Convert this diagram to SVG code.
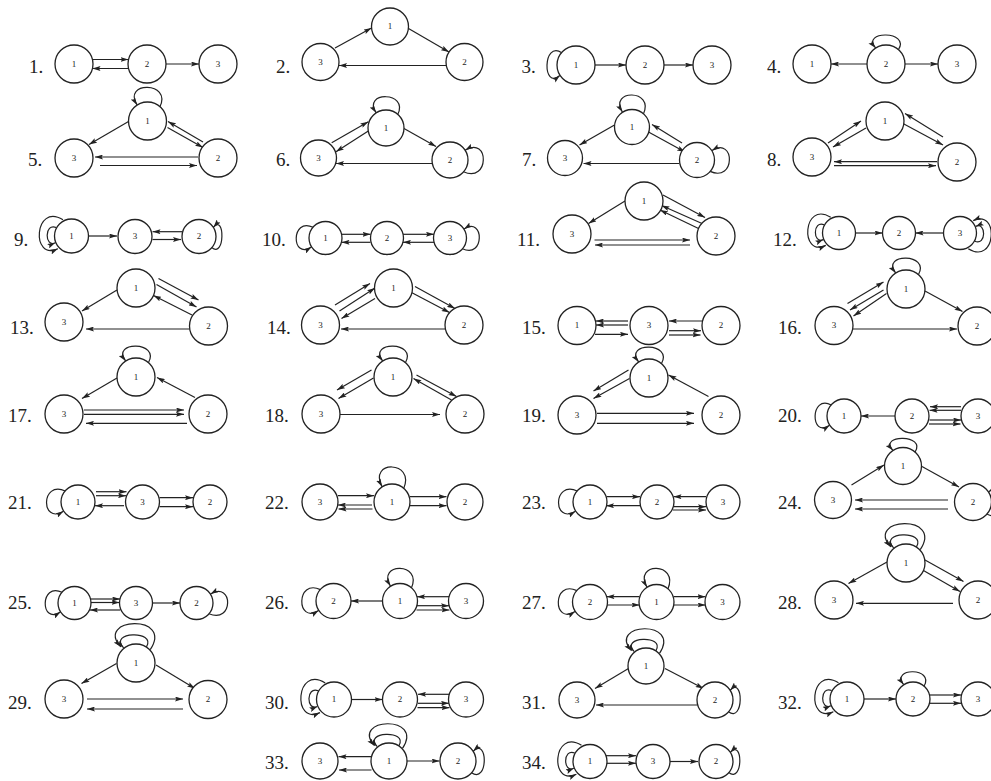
<svg xmlns="http://www.w3.org/2000/svg" width="991" height="781" viewBox="0 0 991 781">
<style>
.e{fill:none;stroke:#222;stroke-width:1.2;marker-end:url(#a)}
.n circle{fill:#fff;stroke:#222;stroke-width:1.3}
.n text{font-family:"Liberation Serif",serif;font-size:9px;text-anchor:middle;fill:#222}
.l{font-family:"Liberation Serif",serif;font-size:19px;fill:#222}
</style>
<defs>
<marker id="a" markerWidth="8" markerHeight="5" refX="8" refY="2.5" orient="auto" markerUnits="userSpaceOnUse"><path d="M0,0 L8,2.5 L0,5 L1.5,2.5 z" fill="#222"/></marker>
</defs>
<rect width="991" height="781" fill="#fff"/>
<g id="labels">
<text class="l" x="29" y="72.5">1.</text><text class="l" x="276" y="72.5">2.</text><text class="l" x="521.5" y="72.5">3.</text><text class="l" x="767" y="72.5">4.</text>
<text class="l" x="28" y="166">5.</text><text class="l" x="276" y="166">6.</text><text class="l" x="522" y="166">7.</text><text class="l" x="767" y="166">8.</text>
<text class="l" x="14" y="245.5">9.</text><text class="l" x="262" y="245.5">10.</text><text class="l" x="517" y="245.5">11.</text><text class="l" x="773" y="245.5">12.</text>
<text class="l" x="10" y="334">13.</text><text class="l" x="267" y="334">14.</text><text class="l" x="522" y="334">15.</text><text class="l" x="778" y="334">16.</text>
<text class="l" x="8" y="422">17.</text><text class="l" x="265" y="422">18.</text><text class="l" x="522" y="422">19.</text><text class="l" x="778" y="422">20.</text>
<text class="l" x="8" y="508.5">21.</text><text class="l" x="265" y="508.5">22.</text><text class="l" x="522" y="508.5">23.</text><text class="l" x="778" y="508.5">24.</text>
<text class="l" x="8" y="609">25.</text><text class="l" x="265" y="609">26.</text><text class="l" x="522" y="609">27.</text><text class="l" x="778" y="609">28.</text>
<text class="l" x="8" y="708.5">29.</text><text class="l" x="265" y="708.5">30.</text><text class="l" x="522" y="708.5">31.</text><text class="l" x="778" y="708.5">32.</text>
<text class="l" x="265" y="768.5">33.</text><text class="l" x="522" y="768.5">34.</text>
</g>
<g id="connectors">
<!-- 1 -->
<path class="e" d="M92.5,59.5 H128.5"/><path class="e" d="M128.5,68.5 H92.5"/><path class="e" d="M166,64 H199"/>
<!-- 2 -->
<path class="e" d="M335,48 L371.5,28"/><path class="e" d="M408.5,28.5 L449,52"/><path class="e" d="M446.5,65.5 H339"/>
<!-- 3 -->
<path class="e" d="M561.75,52.65 C542.4,40.3 542.4,90.65 559.85,75.45"/><path class="e" d="M595,65 H626"/><path class="e" d="M664,65 H693"/>
<!-- 4 -->
<path class="e" d="M898.4,49.8 C910.7,30.4 860.4,30.4 875.6,47.9"/><path class="e" d="M867,64 H831"/><path class="e" d="M905,64 H938"/>
<!-- 5 -->
<path class="e" d="M159.9,106.8 C172.2,81.1 121.9,81.1 137.1,104.9"/>
<path class="e" d="M128.5,121.5 L89,144.5"/><path class="e" d="M203,142 L168,121.5"/><path class="e" d="M167.5,127.5 L203,147.5"/>
<path class="e" d="M198,157 H95"/><path class="e" d="M100,165.5 H197"/>
<!-- 6 -->
<path class="e" d="M397.7,114.5 C409.4,91.1 361.7,91.1 376.1,112.7"/>
<path class="e" d="M463.5,171.7 C489.6,183.4 489.6,135.7 465.3,150.1"/>
<path class="e" d="M331.7,142.7 L368.3,121.7"/><path class="e" d="M368.3,131 L336,151.7"/><path class="e" d="M404,128.5 L436,146.5"/><path class="e" d="M432,163.5 H336"/>
<!-- 7 -->
<path class="e" d="M643.4,113.9 C654.8,89 608.4,89 622.4,112.1"/>
<path class="e" d="M710.1,171.4 C735.5,182.75 735.5,136.4 711.9,150.4"/>
<path class="e" d="M614.5,125 L579.5,145"/><path class="e" d="M682,143 L652,124.5"/><path class="e" d="M648.5,132 L685,152"/><path class="e" d="M679,163.5 H583.5"/>
<!-- 8 -->
<path class="e" d="M828,143 L861,121"/><path class="e" d="M866,128 L833,147"/><path class="e" d="M943,137 L905,113.5"/><path class="e" d="M903,123.5 L943,145"/>
<path class="e" d="M937,161.7 H834"/><path class="e" d="M834,165.7 H936"/>
<!-- 9 -->
<path class="e" d="M63,219.85 C34.1,202 30.7,261.5 57.9,248.75"/><path class="e" d="M56.2,227.5 C44.3,222.4 44.3,247.9 55.35,242.8"/>
<path class="e" d="M211.75,247.55 C225,258.6 225,213.55 213.45,227.15"/>
<path class="e" d="M88.5,236 H117"/><path class="e" d="M182,231.7 H152.5"/><path class="e" d="M152.5,239.5 H181"/>
<!-- 10 -->
<path class="e" d="M313.1,227.3 C290.85,216.55 290.85,260.3 311.5,247.1"/>
<path class="e" d="M462.4,248.7 C484.65,259.45 484.65,215.7 464,228.9"/>
<path class="e" d="M341.5,234.3 H370.5"/><path class="e" d="M370.5,242.3 H341.5"/><path class="e" d="M403,234.3 H434"/><path class="e" d="M434,242.3 H403"/>
<!-- 11 -->
<path class="e" d="M625,201 L588.5,223.5"/><path class="e" d="M663,195 L705,217.5"/><path class="e" d="M702,223.5 L661.5,205.5"/><path class="e" d="M698.5,228.5 L660,210"/>
<path class="e" d="M594.5,240 H690"/><path class="e" d="M690,245 H595"/>
<!-- 12 -->
<path class="e" d="M830.75,217.3 C802.7,200 799.4,257.75 825.8,245.4"/><path class="e" d="M824.15,224.75 C812.6,219.8 812.6,244.55 823.3,239.6"/>
<path class="e" d="M968.25,248.7 C996.3,266 999.6,208.25 973.2,220.6"/><path class="e" d="M974.85,241.25 C986.4,246.2 986.4,221.45 975.7,226.4"/>
<path class="e" d="M855.5,233 H882.5"/><path class="e" d="M943.5,233 H915.5"/>
<!-- 13 -->
<path class="e" d="M117,290 L82,311"/><path class="e" d="M158.5,278.5 L198.5,300"/><path class="e" d="M156.5,284.5 L196.5,307"/><path class="e" d="M192,315 L153.5,295.5"/>
<path class="e" d="M189.5,329 H86"/>
<!-- 14 -->
<path class="e" d="M335,305 L370,283.5"/><path class="e" d="M339.5,311 L375,288"/><path class="e" d="M375,298.5 L341.5,318.5"/>
<path class="e" d="M415,286.5 L455,308.5"/><path class="e" d="M411.5,292.5 L449.5,312.5"/><path class="e" d="M445.5,329 H341"/>
<!-- 15 -->
<path class="e" d="M628,321 H596"/><path class="e" d="M628,325 H596"/><path class="e" d="M595,334.3 H628"/>
<path class="e" d="M702,321 H669"/><path class="e" d="M669,330.7 H701"/><path class="e" d="M669,335 H700.5"/>
<!-- 16 -->
<path class="e" d="M918.4,274.8 C930.7,252.9 880.4,252.9 895.6,272.9"/>
<path class="e" d="M847.5,303.5 L883.5,282"/><path class="e" d="M883.5,290 L850,310"/><path class="e" d="M886.5,293.5 L853.5,316"/>
<path class="e" d="M925,291 L962.5,311.5"/><path class="e" d="M853,329 H957"/>
<!-- 17 -->
<path class="e" d="M148.4,362.8 C160.7,340.9 110.4,340.9 125.6,360.9"/>
<path class="e" d="M117,378 L82,398.5"/><path class="e" d="M195,397.5 L157,377.5"/>
<path class="e" d="M84,410 H184"/><path class="e" d="M84,414.3 H184"/><path class="e" d="M187,423.3 H86"/>
<!-- 18 -->
<path class="e" d="M405.4,362.8 C417.7,340.9 367.4,340.9 382.6,360.9"/>
<path class="e" d="M371.5,370 L337,390"/><path class="e" d="M373.5,378 L338.5,398.5"/>
<path class="e" d="M416.5,375 L456.5,396.5"/><path class="e" d="M451.5,400 L413.5,378.5"/><path class="e" d="M340,414.5 H440"/>
<!-- 19 -->
<path class="e" d="M661.4,363.8 C673.7,341.9 623.4,341.9 638.6,361.9"/>
<path class="e" d="M628.5,370 L593.5,391"/><path class="e" d="M629.5,378.5 L593.5,398.5"/><path class="e" d="M708.5,396.5 L668.5,375"/>
<path class="e" d="M597,413.3 H694"/><path class="e" d="M597,423.3 H694"/>
<!-- 20 -->
<path class="e" d="M831.25,404.95 C810,393.9 810,438.95 829.55,425.35"/>
<path class="e" d="M895,416 H861"/><path class="e" d="M961,406.7 H930"/><path class="e" d="M961,410.3 H929.5"/><path class="e" d="M929.5,420 H961"/><path class="e" d="M929,424 H960.5"/>
<!-- 21 -->
<path class="e" d="M65.25,490.95 C40.6,479.9 40.6,524.95 63.55,511.35"/>
<path class="e" d="M96,491.7 H126.5"/><path class="e" d="M96,495.7 H126"/><path class="e" d="M124,505.7 H95"/>
<path class="e" d="M159.5,497.7 H193"/><path class="e" d="M159.5,506.7 H193"/>
<!-- 22 -->
<path class="e" d="M403.7,488.5 C415.4,460.1 367.7,460.1 382.1,486.7"/>
<path class="e" d="M338,495.7 H374"/><path class="e" d="M372,505 H338"/><path class="e" d="M372.5,509 H338.5"/>
<path class="e" d="M410,496.7 H446.5"/><path class="e" d="M410,505.7 H446.5"/>
<!-- 23 -->
<path class="e" d="M577.25,490.95 C552.6,479.9 552.6,524.95 575.55,511.35"/>
<path class="e" d="M606.5,496.7 H640"/><path class="e" d="M640,505.7 H606"/><path class="e" d="M706,496.7 H673.5"/><path class="e" d="M673.5,506.7 H706"/><path class="e" d="M673,510 H706"/>
<!-- 24 -->
<path class="e" d="M915,452.1 C927,434 878,434 892.8,450.3"/>
<path class="e" d="M986.9,514 C1010,526 1010,477 988.7,491.8"/>
<path class="e" d="M851.5,485 L884,465"/><path class="e" d="M922,466.5 L959,487"/><path class="e" d="M948,500 H855"/><path class="e" d="M948,509 H855"/>
<!-- 25 -->
<path class="e" d="M62.1,592.3 C39.85,581.55 39.85,625.3 60.5,612.1"/>
<path class="e" d="M208.9,613.7 C233.6,624.45 233.6,580.7 210.5,593.9"/>
<path class="e" d="M91,599 H120"/><path class="e" d="M91,602.5 H119.5"/><path class="e" d="M120,610 H90"/><path class="e" d="M152.5,603 H180"/>
<!-- 26 -->
<path class="e" d="M320.4,589.6 C295.9,578.25 295.9,624.6 318.6,610.6"/>
<path class="e" d="M411.4,587.9 C422.75,562.1 376.4,562.1 390.4,586.1"/>
<path class="e" d="M382.5,601 H351"/><path class="e" d="M449,596.7 H417"/><path class="e" d="M417,605.7 H449"/><path class="e" d="M416.5,610 H449.5"/>
<!-- 27 -->
<path class="e" d="M576.9,590.6 C552.4,579.25 552.4,625.6 575.1,611.6"/>
<path class="e" d="M667.9,588.9 C679.25,561.75 632.9,561.75 646.9,587.1"/>
<path class="e" d="M639.5,596.7 H606.5"/><path class="e" d="M607,605 H639.5"/><path class="e" d="M673.5,596.7 H705.5"/><path class="e" d="M673.5,605 H705.5"/>
<!-- 28 -->
<path class="e" d="M920.25,549.7 C944,513.6 864.2,517.4 890.8,546.85"/><path class="e" d="M916.45,546.85 C926.9,529.75 877.5,531.65 893.65,547.8"/>
<path class="e" d="M887,562 L848.5,583.5"/><path class="e" d="M925,560 L963.5,581.5"/><path class="e" d="M920,568.5 L960,591.5"/><path class="e" d="M953,603.3 H856"/>
<!-- 29 -->
<path class="e" d="M150.25,649.7 C174,613.6 94.2,617.4 120.8,646.85"/><path class="e" d="M146.45,646.85 C156.9,629.75 107.5,631.65 123.65,647.8"/>
<path class="e" d="M116.5,663.5 L81.5,683.5"/><path class="e" d="M156,665 L195,688.5"/><path class="e" d="M87,699 H183"/><path class="e" d="M183,709 H87"/>
<!-- 30 -->
<path class="e" d="M325.25,682.9 C295.5,664.5 292,725.75 320,712.6"/><path class="e" d="M318.25,690.75 C306,685.5 306,711.75 317.4,706.5"/>
<path class="e" d="M351.5,699.5 H382.5"/><path class="e" d="M449,694.3 H418"/><path class="e" d="M418,703.3 H449"/><path class="e" d="M417.5,707.7 H449.5"/>
<!-- 31 -->
<path class="e" d="M659.5,653.4 C682,619.2 606.4,622.8 631.6,650.7"/><path class="e" d="M655.9,650.7 C665.8,634.5 619,636.3 634.3,651.6"/>
<path class="e" d="M728.5,711.7 C743.8,723.4 743.8,675.7 730.3,690.1"/>
<path class="e" d="M628.5,668.5 L595,688.5"/><path class="e" d="M665,668.5 L703.5,688.5"/><path class="e" d="M697.5,705 H596"/>
<!-- 32 -->
<path class="e" d="M838.5,682.85 C809.6,665 806.2,724.5 833.4,711.75"/><path class="e" d="M831.7,690.5 C819.8,685.4 819.8,710.9 830.85,705.8"/>
<path class="e" d="M924.05,686.25 C935.1,667.2 890.05,667.2 903.65,684.55"/>
<path class="e" d="M864,699 H896"/><path class="e" d="M929.5,695 H961"/><path class="e" d="M929.5,703.3 H961"/>
<!-- 33 -->
<path class="e" d="M402.5,748.4 C425,714.2 349.4,717.8 374.6,745.7"/><path class="e" d="M398.9,745.7 C408.8,729.5 362,731.3 377.3,746.6"/>
<path class="e" d="M471.5,772.7 C488.2,784.4 488.2,736.7 473.3,751.1"/>
<path class="e" d="M371,756.7 H338.5"/><path class="e" d="M371.5,770 H339"/><path class="e" d="M407,761 H439.5"/>
<!-- 34 -->
<path class="e" d="M581.5,745.35 C552.6,727.5 549.2,787 576.4,774.25"/><path class="e" d="M574.7,753 C562.8,747.9 562.8,773.4 573.85,768.3"/>
<path class="e" d="M728.75,772.55 C743.2,783.6 743.2,738.55 730.45,752.15"/>
<path class="e" d="M606,755.7 H636"/><path class="e" d="M606.5,763.3 H636"/><path class="e" d="M670,761.5 H698"/>
</g>
<g id="nodes">
<g id="g1n1" class="n"><circle cx="74" cy="64" r="19"/><text x="74" y="66.5">1</text></g>
<g id="g1n2" class="n"><circle cx="147" cy="64" r="19"/><text x="147" y="66.5">2</text></g>
<g id="g1n3" class="n"><circle cx="218" cy="64" r="19"/><text x="218" y="66.5">3</text></g>
<g id="g2n1" class="n"><circle cx="390" cy="26.5" r="18.5"/><text x="390" y="29">1</text></g>
<g id="g2n3" class="n"><circle cx="320.5" cy="62" r="18.5"/><text x="320.5" y="64.5">3</text></g>
<g id="g2n2" class="n"><circle cx="464.5" cy="62" r="18.5"/><text x="464.5" y="64.5">2</text></g>
<g id="g3n1" class="n"><circle cx="576" cy="65" r="19"/><text x="576" y="67.5">1</text></g>
<g id="g3n2" class="n"><circle cx="645" cy="65" r="19"/><text x="645" y="67.5">2</text></g>
<g id="g3n3" class="n"><circle cx="712" cy="65" r="19"/><text x="712" y="67.5">3</text></g>
<g id="g4n1" class="n"><circle cx="812" cy="64" r="19"/><text x="812" y="66.5">1</text></g>
<g id="g4n2" class="n"><circle cx="886" cy="64" r="19"/><text x="886" y="66.5">2</text></g>
<g id="g4n3" class="n"><circle cx="957" cy="64" r="19"/><text x="957" y="66.5">3</text></g>
<g id="g5n1" class="n"><circle cx="147.5" cy="121" r="19"/><text x="147.5" y="123.5">1</text></g>
<g id="g5n3" class="n"><circle cx="74" cy="158" r="19"/><text x="74" y="160.5">3</text></g>
<g id="g5n2" class="n"><circle cx="218" cy="158" r="19"/><text x="218" y="160.5">2</text></g>
<g id="g6n1" class="n"><circle cx="386" cy="128" r="18"/><text x="386" y="130.5">1</text></g>
<g id="g6n3" class="n"><circle cx="318.5" cy="158" r="18"/><text x="318.5" y="160.5">3</text></g>
<g id="g6n2" class="n"><circle cx="450" cy="160" r="18"/><text x="450" y="162.5">2</text></g>
<g id="g7n1" class="n"><circle cx="632" cy="127" r="17.5"/><text x="632" y="129.5">1</text></g>
<g id="g7n3" class="n"><circle cx="565" cy="158" r="17.5"/><text x="565" y="160.5">3</text></g>
<g id="g7n2" class="n"><circle cx="697" cy="160" r="17.5"/><text x="697" y="162.5">2</text></g>
<g id="g8n1" class="n"><circle cx="885" cy="121" r="19"/><text x="885" y="123.5">1</text></g>
<g id="g8n3" class="n"><circle cx="812" cy="157" r="19"/><text x="812" y="159.5">3</text></g>
<g id="g8n2" class="n"><circle cx="957" cy="162" r="19"/><text x="957" y="164.5">2</text></g>
<g id="g9n1" class="n"><circle cx="71.5" cy="236" r="17"/><text x="71.5" y="238.5">1</text></g>
<g id="g9n3" class="n"><circle cx="135" cy="236.5" r="17"/><text x="135" y="239">3</text></g>
<g id="g9n2" class="n"><circle cx="199" cy="236.5" r="17"/><text x="199" y="239">2</text></g>
<g id="g10n1" class="n"><circle cx="325.5" cy="238" r="16.5"/><text x="325.5" y="240.5">1</text></g>
<g id="g10n2" class="n"><circle cx="387" cy="238" r="16.5"/><text x="387" y="240.5">2</text></g>
<g id="g10n3" class="n"><circle cx="450" cy="238" r="16.5"/><text x="450" y="240.5">3</text></g>
<g id="g11n1" class="n"><circle cx="644" cy="201" r="19"/><text x="644" y="203.5">1</text></g>
<g id="g11n3" class="n"><circle cx="572" cy="234" r="19"/><text x="572" y="236.5">3</text></g>
<g id="g11n2" class="n"><circle cx="716" cy="236" r="19"/><text x="716" y="238.5">2</text></g>
<g id="g12n1" class="n"><circle cx="839" cy="233" r="16.5"/><text x="839" y="235.5">1</text></g>
<g id="g12n2" class="n"><circle cx="899" cy="233" r="16.5"/><text x="899" y="235.5">2</text></g>
<g id="g12n3" class="n"><circle cx="960" cy="233" r="16.5"/><text x="960" y="235.5">3</text></g>
<g id="g13n1" class="n"><circle cx="136" cy="288" r="19"/><text x="136" y="290.5">1</text></g>
<g id="g13n3" class="n"><circle cx="64" cy="322" r="19"/><text x="64" y="324.5">3</text></g>
<g id="g13n2" class="n"><circle cx="208.5" cy="326" r="19"/><text x="208.5" y="328.5">2</text></g>
<g id="g14n1" class="n"><circle cx="393.5" cy="288" r="19"/><text x="393.5" y="290.5">1</text></g>
<g id="g14n3" class="n"><circle cx="320.5" cy="325" r="19"/><text x="320.5" y="327.5">3</text></g>
<g id="g14n2" class="n"><circle cx="464" cy="325" r="19"/><text x="464" y="327.5">2</text></g>
<g id="g15n1" class="n"><circle cx="577" cy="325.5" r="19"/><text x="577" y="328">1</text></g>
<g id="g15n3" class="n"><circle cx="649" cy="325.5" r="19"/><text x="649" y="328">3</text></g>
<g id="g15n2" class="n"><circle cx="721" cy="325.5" r="19"/><text x="721" y="328">2</text></g>
<g id="g16n1" class="n"><circle cx="906" cy="289" r="19"/><text x="906" y="291.5">1</text></g>
<g id="g16n3" class="n"><circle cx="834" cy="325.5" r="19"/><text x="834" y="328">3</text></g>
<g id="g16n2" class="n"><circle cx="977" cy="326" r="19"/><text x="977" y="328.5">2</text></g>
<g id="g17n1" class="n"><circle cx="136" cy="377" r="19"/><text x="136" y="379.5">1</text></g>
<g id="g17n3" class="n"><circle cx="64" cy="414" r="19"/><text x="64" y="416.5">3</text></g>
<g id="g17n2" class="n"><circle cx="208" cy="414" r="19"/><text x="208" y="416.5">2</text></g>
<g id="g18n1" class="n"><circle cx="393" cy="377" r="19"/><text x="393" y="379.5">1</text></g>
<g id="g18n3" class="n"><circle cx="321" cy="414" r="19"/><text x="321" y="416.5">3</text></g>
<g id="g18n2" class="n"><circle cx="465" cy="414" r="19"/><text x="465" y="416.5">2</text></g>
<g id="g19n1" class="n"><circle cx="649" cy="378" r="19"/><text x="649" y="380.5">1</text></g>
<g id="g19n3" class="n"><circle cx="577" cy="415" r="19"/><text x="577" y="417.5">3</text></g>
<g id="g19n2" class="n"><circle cx="721" cy="415" r="19"/><text x="721" y="417.5">2</text></g>
<g id="g20n1" class="n"><circle cx="844" cy="416" r="17"/><text x="844" y="418.5">1</text></g>
<g id="g20n2" class="n"><circle cx="912" cy="416" r="17"/><text x="912" y="418.5">2</text></g>
<g id="g20n3" class="n"><circle cx="978" cy="416" r="17"/><text x="978" y="418.5">3</text></g>
<g id="g21n1" class="n"><circle cx="78" cy="502" r="17"/><text x="78" y="504.5">1</text></g>
<g id="g21n3" class="n"><circle cx="142.5" cy="502" r="17"/><text x="142.5" y="504.5">3</text></g>
<g id="g21n2" class="n"><circle cx="210" cy="502" r="17"/><text x="210" y="504.5">2</text></g>
<g id="g22n3" class="n"><circle cx="320" cy="502" r="18"/><text x="320" y="504.5">3</text></g>
<g id="g22n1" class="n"><circle cx="392" cy="502" r="18"/><text x="392" y="504.5">1</text></g>
<g id="g22n2" class="n"><circle cx="465" cy="502" r="18"/><text x="465" y="504.5">2</text></g>
<g id="g23n1" class="n"><circle cx="590" cy="502" r="17"/><text x="590" y="504.5">1</text></g>
<g id="g23n2" class="n"><circle cx="657" cy="502" r="17"/><text x="657" y="504.5">2</text></g>
<g id="g23n3" class="n"><circle cx="723" cy="502" r="17"/><text x="723" y="504.5">3</text></g>
<g id="g24n1" class="n"><circle cx="903" cy="466" r="18.5"/><text x="903" y="468.5">1</text></g>
<g id="g24n3" class="n"><circle cx="833" cy="500" r="18.5"/><text x="833" y="502.5">3</text></g>
<g id="g24n2" class="n"><circle cx="973" cy="502" r="18.5"/><text x="973" y="504.5">2</text></g>
<g id="g25n1" class="n"><circle cx="74.5" cy="603" r="16.5"/><text x="74.5" y="605.5">1</text></g>
<g id="g25n3" class="n"><circle cx="136" cy="603" r="16.5"/><text x="136" y="605.5">3</text></g>
<g id="g25n2" class="n"><circle cx="196.5" cy="603" r="16.5"/><text x="196.5" y="605.5">2</text></g>
<g id="g26n2" class="n"><circle cx="333.5" cy="601" r="17.5"/><text x="333.5" y="603.5">2</text></g>
<g id="g26n1" class="n"><circle cx="400" cy="601" r="17.5"/><text x="400" y="603.5">1</text></g>
<g id="g26n3" class="n"><circle cx="466" cy="601" r="17.5"/><text x="466" y="603.5">3</text></g>
<g id="g27n2" class="n"><circle cx="590" cy="602" r="17.5"/><text x="590" y="604.5">2</text></g>
<g id="g27n1" class="n"><circle cx="656.5" cy="602" r="17.5"/><text x="656.5" y="604.5">1</text></g>
<g id="g27n3" class="n"><circle cx="722.5" cy="602" r="17.5"/><text x="722.5" y="604.5">3</text></g>
<g id="g28n1" class="n"><circle cx="906" cy="563" r="19"/><text x="906" y="565.5">1</text></g>
<g id="g28n3" class="n"><circle cx="834" cy="600" r="19"/><text x="834" y="602.5">3</text></g>
<g id="g28n2" class="n"><circle cx="978" cy="600" r="19"/><text x="978" y="602.5">2</text></g>
<g id="g29n1" class="n"><circle cx="136" cy="663" r="19"/><text x="136" y="665.5">1</text></g>
<g id="g29n3" class="n"><circle cx="64" cy="699" r="19"/><text x="64" y="701.5">3</text></g>
<g id="g29n2" class="n"><circle cx="208" cy="699.5" r="19"/><text x="208" y="702">2</text></g>
<g id="g30n1" class="n"><circle cx="334" cy="699.5" r="17.5"/><text x="334" y="702">1</text></g>
<g id="g30n2" class="n"><circle cx="400" cy="699.5" r="17.5"/><text x="400" y="702">2</text></g>
<g id="g30n3" class="n"><circle cx="466" cy="699.5" r="17.5"/><text x="466" y="702">3</text></g>
<g id="g31n1" class="n"><circle cx="646" cy="666" r="18"/><text x="646" y="668.5">1</text></g>
<g id="g31n3" class="n"><circle cx="577" cy="700" r="18"/><text x="577" y="702.5">3</text></g>
<g id="g31n2" class="n"><circle cx="715" cy="700" r="18"/><text x="715" y="702.5">2</text></g>
<g id="g32n1" class="n"><circle cx="847" cy="699" r="17"/><text x="847" y="701.5">1</text></g>
<g id="g32n2" class="n"><circle cx="913" cy="699" r="17"/><text x="913" y="701.5">2</text></g>
<g id="g32n3" class="n"><circle cx="978" cy="699" r="17"/><text x="978" y="701.5">3</text></g>
<g id="g33n3" class="n"><circle cx="320" cy="761" r="18"/><text x="320" y="763.5">3</text></g>
<g id="g33n1" class="n"><circle cx="389" cy="761" r="18"/><text x="389" y="763.5">1</text></g>
<g id="g33n2" class="n"><circle cx="458" cy="761" r="18"/><text x="458" y="763.5">2</text></g>
<g id="g34n1" class="n"><circle cx="590" cy="761.5" r="17"/><text x="590" y="764">1</text></g>
<g id="g34n3" class="n"><circle cx="653" cy="761.5" r="17"/><text x="653" y="764">3</text></g>
<g id="g34n2" class="n"><circle cx="716" cy="761.5" r="17"/><text x="716" y="764">2</text></g>
</g>
</svg>
